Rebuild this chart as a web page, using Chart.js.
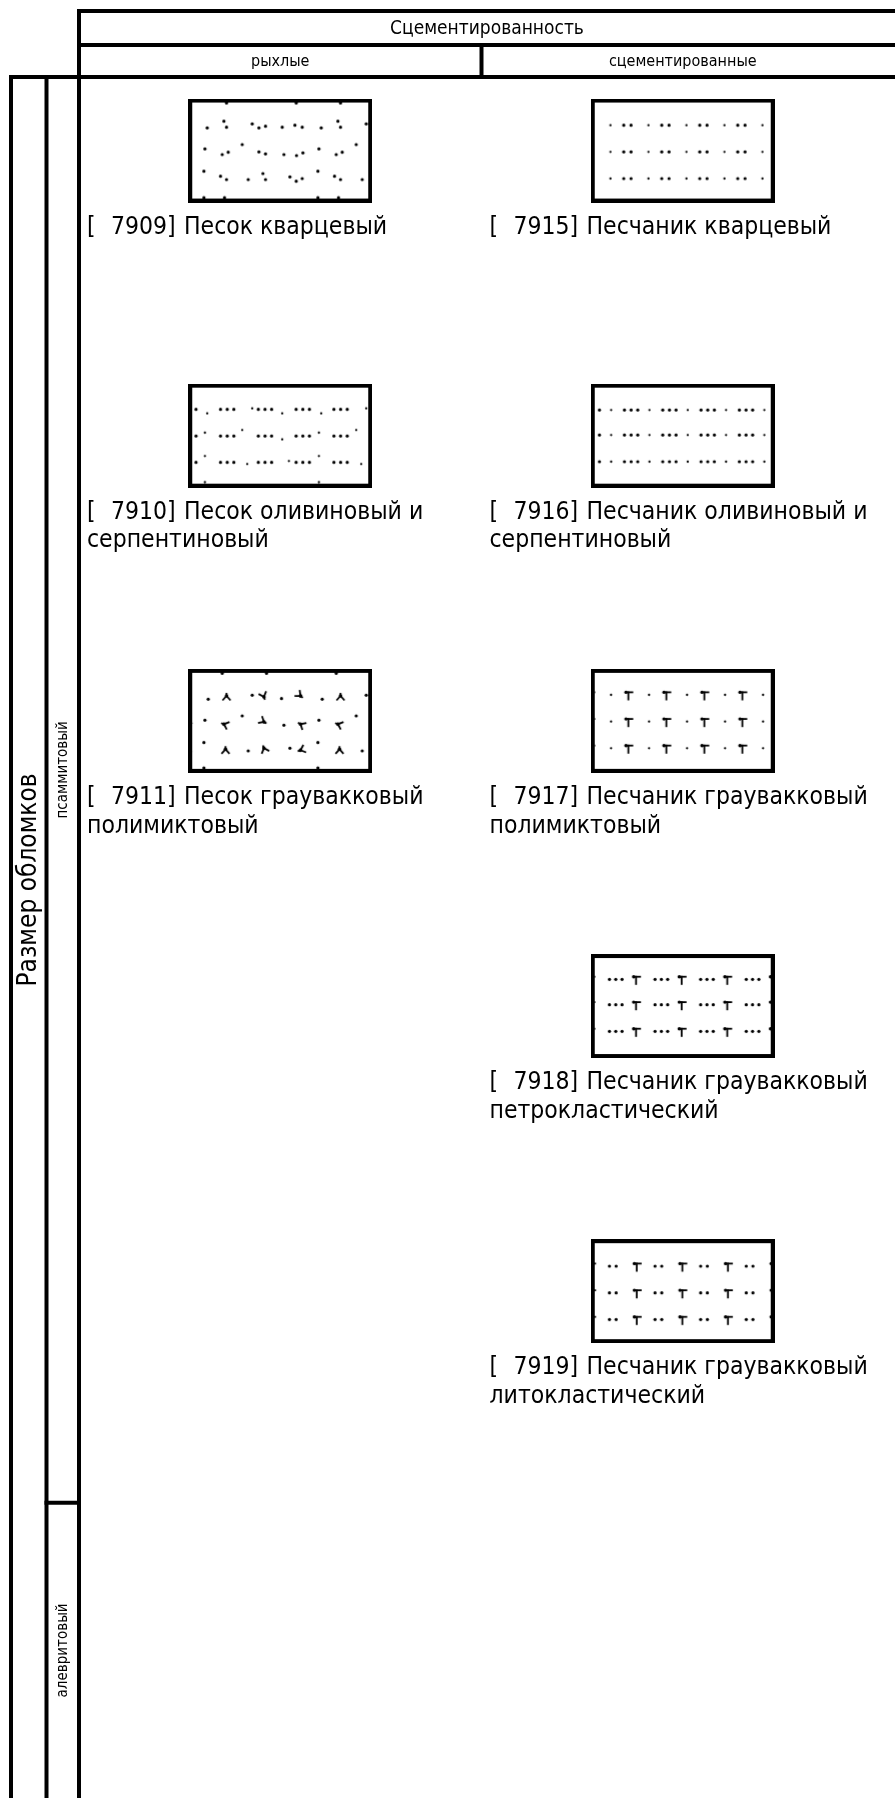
<!DOCTYPE html>
<html>
<head>
<meta charset="utf-8">
<script src="https://cdn.jsdelivr.net/npm/chart.js@4.4.0/dist/chart.umd.min.js"></script>
<style>
  html, body { margin: 0; padding: 0; background: #fff; }
  canvas { display: block; }
</style>
</head>
<body>
<canvas id="chart" width="895" height="1798"></canvas>
<script>
// table content
const headerTitle = 'Сцементированность';
const columnLabels = ['рыхлые', 'сцементированные'];
const sizeTitle = 'Размер обломков';
const sizeGroups = ['псаммитовый', 'алевритовый'];
const groupSlots = [5, 1];

// lithology cells
const codes = [7909, 7910, 7911, 7915, 7916, 7917, 7918, 7919];
const names = [
  ['Песок кварцевый'],
  ['Песок оливиновый и', 'серпентиновый'],
  ['Песок граувакковый', 'полимиктовый'],
  ['Песчаник кварцевый'],
  ['Песчаник оливиновый и', 'серпентиновый'],
  ['Песчаник граувакковый', 'полимиктовый'],
  ['Песчаник граувакковый', 'петрокластический'],
  ['Песчаник граувакковый', 'литокластический']
];
const itemColumn = [0, 0, 0, 1, 1, 1, 1, 1];
const itemSlot = [0, 1, 2, 0, 1, 2, 3, 4];

const FONT = '"DejaVu Sans Condensed", "DejaVu Sans", sans-serif';
const SLOT_MIN = -0.2578;
const SLOT_RANGE = 5.9965;
const BOX_W = 184;
const BOX_H = 104;

// swatch textures (box-local px)
const PATTERNS = {
  7909: [{ period: 114, x0: 0, rows: [0], motif: [
    [19, 29.3, 'd'], [35.7, 22.7, 'd'], [38.3, 28.7, 'd'], [64, 25.3, 'd'], [70.7, 29.3, 'd'], [77.3, 27.7, 'd'], [94, 28.7, 'd'], [106.7, 26.7, 'd'], [114, 28.7, 'd'],
    [16.7, 50.3, 'd'], [34, 56, 'd'], [40, 53.7, 'd'], [54, 46, 'd'], [70.7, 53.3, 'd'], [77.3, 55.3, 'd'], [95.7, 56, 'd'], [108.3, 57, 'd'], [114.7, 54.3, 'd'],
    [15.7, 72.7, 'd'], [32.3, 77.7, 'd'], [38.3, 81, 'd'], [60, 81, 'd'], [74.7, 75, 'd'], [77.3, 81, 'd'], [101.7, 78.3, 'd'], [108, 82.7, 'd'], [114, 80, 'd'],
    [38.3, 4.5, 'd'], [108, 4.5, 'd'], [15.7, 99, 'd'], [36.3, 99, 'd']
  ] }],
  7910: [
    { period: 37.8, x0: 32.3, rows: [25.7, 52.3, 78.7], motif: [[0, 0, 'd'], [6.7, 0, 'd'], [13.3, 0, 'd']] },
    { period: 114, x0: 0, rows: [0], motif: [
      [19, 29.7, 's'], [64, 24.7, 's'], [94, 29.7, 's'], [16.7, 49, 's'], [54, 46.3, 's'], [94, 55.7, 's'],
      [16.7, 72.3, 's'], [59, 80.3, 's'], [100.7, 77.3, 's'], [16.7, 98.5, 's']
    ] }
  ],
  7911: [{ period: 114, x0: 0, rows: [0], motif: [
    [20, 30.3, 'd'], [64, 26.3, 'd'], [93.3, 29.7, 'd'], [16.7, 51.3, 'd'], [54, 47, 'd'], [95.7, 56.3, 'd'],
    [15.7, 73.7, 'd'], [60, 82, 'd'], [101.7, 79.3, 'd'], [34, 4.5, 'd'], [78.3, 4.5, 'd'], [15.7, 99, 'd'],
    [38.3, 27, 'y', 0], [75.7, 28, 'y', 160], [112.3, 27, 'y', 130],
    [35.7, 55.3, 'y', -70], [75.7, 53, 'y', 120], [112.3, 55.3, 'y', -60],
    [37.3, 80.3, 'y', 0], [75.7, 79.3, 'y', -20], [112.3, 81.3, 'y', -110]
  ] }],
  7915: [{ period: 38, x0: 19.7, rows: [26.7, 53.3, 80], motif: [[0, 0, 's'], [13.3, 0, 'd'], [20.6, 0, 'd']] }],
  7916: [{ period: 38.3, x0: 33.7, rows: [26.3, 51.3, 78], motif: [[0, 0, 'd'], [6.7, 0, 'd'], [13.3, 0, 'd'], [25, 0, 's']] }],
  7917: [{ period: 38, x0: 20.3, rows: [26, 52.7, 79.3], motif: [[0, 0, 's'], [16.7, 0, 't']] }],
  7918: [{ period: 45.6, x0: 18.7, rows: [25.3, 50.7, 77.3], motif: [[0, 0, 'd'], [6.3, 0, 'd'], [12.6, 0, 'd'], [26, 0, 't']] }],
  7919: [{ period: 45.6, x0: 18.7, rows: [27, 53.7, 80.3], motif: [[0, 0, 'd'], [6.7, 0, 'd'], [26.7, 0, 't']] }]
};

function drawMark(ctx, x, y, kind, angle) {
  ctx.beginPath();
  if (kind === 'd') {
    ctx.arc(x, y, 1.6, 0, Math.PI * 2);
    ctx.fill();
  } else if (kind === 's') {
    ctx.arc(x, y, 1.15, 0, Math.PI * 2);
    ctx.fill();
  } else if (kind === 't') {
    ctx.fillRect(x - 2.5, y - 3.5, 8, 1.8);
    ctx.fillRect(x - 0.3, y - 3.5, 1.8, 9);
    ctx.arc(x - 1.8, y - 2.6, 1.7, 0, Math.PI * 2);
    ctx.fill();
  } else if (kind === 'y') {
    ctx.save();
    ctx.translate(x, y);
    ctx.rotate((angle || 0) * Math.PI / 180);
    ctx.lineWidth = 1.8;
    ctx.moveTo(0, -3);
    ctx.lineTo(0, 0);
    ctx.moveTo(-4, 4.5);
    ctx.lineTo(0, 0);
    ctx.lineTo(4, 4.5);
    ctx.stroke();
    ctx.beginPath();
    ctx.arc(0, 0, 1.8, 0, Math.PI * 2);
    ctx.fill();
    ctx.restore();
  }
}

function makeSwatch(code) {
  const c = document.createElement('canvas');
  c.width = BOX_W;
  c.height = BOX_H;
  const ctx = c.getContext('2d');
  ctx.fillStyle = '#fff';
  ctx.fillRect(0, 0, BOX_W, BOX_H);
  ctx.fillStyle = '#000';
  ctx.strokeStyle = '#000';
  (PATTERNS[code] || []).forEach(layer => {
    layer.rows.forEach(rowY => {
      for (let k = -3; k * layer.period < BOX_W + layer.period; k++) {
        const bx = layer.x0 + k * layer.period;
        layer.motif.forEach(m => drawMark(ctx, bx + m[0], rowY + m[1], m[2], m[3]));
      }
    });
  });
  ctx.lineWidth = 4;
  ctx.strokeRect(2, 2, BOX_W - 4, BOX_H - 4);
  return c;
}

const swatches = codes.map(makeSwatch);

const tablePlugin = {
  id: 'lithTable',
  afterDatasetsDraw(chart) {
    const { ctx, chartArea, scales } = chart;
    const x = scales.x;
    const y = scales.y;
    const bottom = chart.height;
    const right = chart.width;
    const leftLines = [11, 46.5, chartArea.left];
    const headTop = 11;
    const headMid = 45;
    const headBottom = chartArea.top;

    ctx.save();
    ctx.strokeStyle = '#000';
    ctx.lineWidth = 4;
    ctx.lineCap = 'square';
    const line = (x1, y1, x2, y2) => {
      ctx.beginPath();
      ctx.moveTo(x1, y1);
      ctx.lineTo(x2, y2);
      ctx.stroke();
    };

    line(leftLines[2], headTop, right, headTop);
    line(leftLines[2], headMid, right, headMid);
    line(leftLines[0], headBottom, right, headBottom);
    line(x.getPixelForValue(0.5), headMid, x.getPixelForValue(0.5), headBottom);
    leftLines.forEach((lx, i) => line(lx, i === 2 ? headTop : headBottom, lx, bottom + 5));

    let acc = SLOT_MIN;
    groupSlots.forEach((n, i) => {
      acc += n;
      if (i < groupSlots.length - 1) {
        const gy = y.getPixelForValue(acc);
        line(leftLines[1], gy, leftLines[2], gy);
      }
    });

    ctx.fillStyle = '#000';
    ctx.textAlign = 'center';
    ctx.textBaseline = 'middle';
    ctx.font = '19px ' + FONT;
    ctx.fillText(headerTitle, (chartArea.left + right) / 2, (headTop + headMid) / 2 + 1);
    ctx.font = '16px ' + FONT;
    columnLabels.forEach((lbl, i) => {
      ctx.fillText(lbl, x.getPixelForValue(i), (headMid + headBottom) / 2 + 1);
    });

    // rotated row titles
    const vText = (txt, cx, cy, size) => {
      ctx.save();
      ctx.translate(cx, cy);
      ctx.rotate(-Math.PI / 2);
      ctx.font = size + 'px ' + FONT;
      ctx.fillText(txt, 0, 0);
      ctx.restore();
    };
    vText(sizeTitle, 29, 880, 26);
    let start = SLOT_MIN;
    sizeGroups.forEach((g, i) => {
      const top = y.getPixelForValue(start);
      const end = i < sizeGroups.length - 1 ? y.getPixelForValue(start + groupSlots[i]) : bottom;
      const cy = i === 0 ? (top + end) / 2 - 20 : (top + end) / 2;
      vText(g, 63, cy, 15);
      start += groupSlots[i];
    });

    // cell captions: "[", code+"]", then the name in fixed slots
    ctx.textAlign = 'left';
    ctx.textBaseline = 'alphabetic';
    ctx.font = '24.5px ' + FONT;
    codes.forEach((code, i) => {
      const lx = x.getPixelForValue(itemColumn[i] - 0.5) + 8;
      const base = y.getPixelForValue(itemSlot[i]) + 83;
      ctx.fillText('[', lx, base);
      ctx.fillText(code + ']', lx + 24, base);
      names[i].forEach((ln, j) => {
        ctx.fillText(ln, j === 0 ? lx + 97 : lx, base + j * 28.7);
      });
    });
    ctx.restore();
  }
};

new Chart(document.getElementById('chart'), {
  type: 'scatter',
  data: {
    datasets: [{
      data: codes.map((c, i) => ({ x: itemColumn[i], y: itemSlot[i] })),
      pointStyle: swatches,
      pointRadius: 10,
      backgroundColor: '#fff',
      borderColor: '#000'
    }]
  },
  options: {
    responsive: false,
    animation: false,
    devicePixelRatio: 1,
    events: [],
    layout: { padding: { left: 79, top: 77, right: 0, bottom: 0 } },
    plugins: { legend: { display: false }, tooltip: { enabled: false } },
    scales: {
      x: { type: 'linear', min: -0.5, max: 1.5, display: false },
      y: { type: 'linear', min: SLOT_MIN, max: SLOT_MIN + SLOT_RANGE, reverse: true, display: false }
    }
  },
  plugins: [tablePlugin]
});
</script>
</body>
</html>
